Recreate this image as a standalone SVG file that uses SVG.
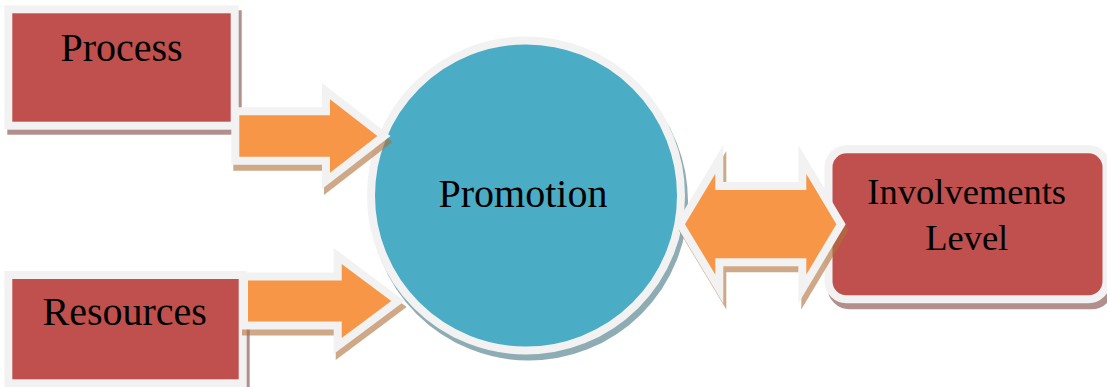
<svg xmlns="http://www.w3.org/2000/svg" xmlns:xlink="http://www.w3.org/1999/xlink" width="1107" height="387" viewBox="0 0 1107 387">
<style>
.shape{stroke:#f2f2f2;stroke-width:8;stroke-linejoin:miter;stroke-miterlimit:10}
.red{fill:#c0504d}
.orange{fill:#f79646}
.blue{fill:#4bacc6}
.sh-red{fill:#804442;stroke:#804442;stroke-width:8;stroke-linejoin:miter;opacity:0.6}
.sh-orange{fill:#af7039;stroke:#af7039;stroke-width:8;stroke-linejoin:miter;opacity:0.6}
.sh-blue{fill:#447682;stroke:#447682;stroke-width:8;opacity:0.6}
.lbl{font-family:"Liberation Serif","Times New Roman",serif;fill:#000;text-anchor:middle}
</style>
<defs>
<rect id="r-process" x="8.3" y="9.3" width="226.4" height="116.4"/>
<rect id="r-resources" x="8.3" y="275" width="234.4" height="108.3"/>
<rect id="r-involve" x="828.5" y="149.3" width="278" height="150" rx="18" ry="18"/>
<circle id="c-promo" cx="526" cy="195.5" r="155"/>
<path id="a-process" d="M235.3,111.2 H326 V91.2 L384,136 L326,180.8 V160.8 H235.3 Z"/>
<path id="a-resources" d="M244,276.5 H337.7 V256 L398,301 L337.7,346 V325.5 H244 Z"/>
<path id="a-double" d="M680.3,224.2 L719.3,159.4 V186 H802.3 V159.4 L841,224.2 L802.3,289 V262.3 H719.3 V289 Z"/>
</defs>
<rect width="1107" height="387" fill="#ffffff"/>
<g id="node-process">
<use xlink:href="#r-process" class="sh-red" transform="translate(3,5)"/>
<use xlink:href="#r-process" class="shape red"/>
<text class="lbl" x="121.5" y="61" font-size="40">Process</text>
</g>
<g id="node-resources">
<use xlink:href="#r-resources" class="sh-red" transform="translate(3,5)"/>
<use xlink:href="#r-resources" class="shape red"/>
<text class="lbl" x="124.7" y="325" font-size="40">Resources</text>
</g>
<g id="node-involvements">
<use xlink:href="#r-involve" class="sh-red" transform="translate(3,6)"/>
<use xlink:href="#r-involve" class="shape red"/>
<text class="lbl" x="966.7" y="204" font-size="36.5">Involvements</text>
<text class="lbl" x="966.7" y="250" font-size="36.5">Level</text>
</g>
<g id="node-promotion">
<use xlink:href="#c-promo" class="sh-blue" transform="translate(3,6)"/>
<use xlink:href="#c-promo" class="shape blue"/>
<text class="lbl" x="523" y="206.7" font-size="40">Promotion</text>
</g>
<g id="connectors">
<use xlink:href="#a-process" class="sh-orange" transform="translate(2,6)"/>
<use xlink:href="#a-process" class="shape orange"/>
<use xlink:href="#a-resources" class="sh-orange" transform="translate(2,6)"/>
<use xlink:href="#a-resources" class="shape orange"/>
<use xlink:href="#a-double" class="sh-orange" transform="translate(3,6)"/>
<use xlink:href="#a-double" class="shape orange"/>
</g>
</svg>
